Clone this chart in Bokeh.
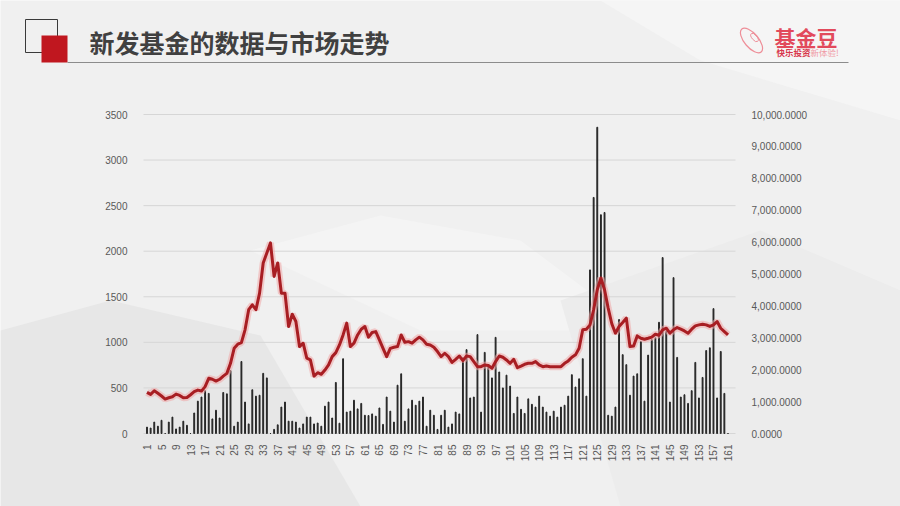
import math
from bokeh.plotting import figure
from bokeh.models import (Range1d, LinearAxis, FixedTicker, NumeralTickFormatter,
                          ColumnDataSource)
from bokeh.embed import file_html
from bokeh.resources import INLINE
from bokeh.core.properties import value

# ---------------- data ----------------
categories = list(range(1, 162))

new_fund_counts = [
    70, 60, 125, 80, 145, 0, 125, 180, 50, 70, 135, 90, 0, 225, 355, 400, 470, 440, 160, 255,
    170, 450, 435, 690, 80, 125, 790, 345, 105, 480, 410, 420, 660, 610, 0, 45, 95, 290, 345, 135,
    135, 125, 60,
    105, 180, 180, 105, 115, 80, 300, 345, 170, 560, 113, 820, 235, 245, 365, 270, 330, 200, 197,
    215, 190, 280, 100, 400, 245, 125, 530, 655, 135, 270, 365, 310, 355, 400, 80, 255, 200, 45,
    200, 255, 70, 105, 235, 215, 830, 920, 390, 400, 1085, 235,
    890, 755, 610, 1055, 675, 500, 640, 520, 220, 400, 265, 220, 380, 320, 290, 410, 290, 235,
    190, 245, 180, 290, 310, 410, 645, 510, 600, 820, 410, 1795, 2590, 3360, 2400, 2425, 200,
    190, 290, 1250,
    865, 755, 420, 630, 655, 1010, 355, 860, 1030, 1050, 1220, 1930, 1120, 345, 1710, 835, 400,
    425, 330, 470, 780, 390, 615, 910, 940, 1370, 390, 900, 440, 0,
]

market_index = [
    1290, 1225, 1340, 1260, 1175, 1080, 1120, 1150, 1235, 1195, 1120, 1130, 1215, 1310, 1360,
    1330, 1470, 1730, 1700, 1645, 1700, 1800, 1885, 2200, 2670, 2800, 2850, 3250, 3880, 4035,
    3880, 4400, 5345, 5660, 5975, 4925, 5345, 4400, 4400, 3355, 3740, 3510, 2725,
    2830, 2360, 2305, 1800, 1905, 1855, 1990, 2150, 2410, 2535, 2775, 3090, 3460, 2725, 2830,
    3090, 3270, 3355, 3020, 3165, 3195, 2935, 2670, 2410, 2670, 2705, 2725, 3090, 2860, 2880,
    2830, 2935, 3020, 2935, 2800, 2775, 2705, 2570, 2410, 2515, 2410, 2230, 2325, 2430, 2285,
    2430, 2410, 2255, 2095,
    2095, 2150, 2130, 2045, 2255, 2430, 2390, 2305, 2200, 2325, 2065, 2115, 2170, 2200, 2200,
    2255, 2150, 2095, 2115, 2095, 2095, 2095, 2095, 2200, 2275, 2390, 2465, 2670, 3250, 3270,
    3405, 3880, 4505, 4875, 4505, 3930, 3440, 3145, 3355,
    3480, 3615, 2725, 2745, 3060, 2985, 2955, 2985, 3020, 3110, 3080, 3250, 3300, 3145, 3250,
    3320, 3270, 3215, 3145, 3270, 3375, 3405, 3425, 3405, 3355, 3405, 3510, 3300, 3195, 3090,
]

left_ticks = [0, 500, 1000, 1500, 2000, 2500, 3000, 3500]
right_ticks = [0, 1000, 2000, 3000, 4000, 5000, 6000, 7000, 8000, 9000, 10000]
x_ticks = list(range(1, 162, 4))

title_text = "新发基金的数据与市场走势"
logo_text = "基金豆"
slogan_a = "快乐投资"
slogan_b = "新体验!"

BG = "#F0F0F0"
LABEL_COLOR = "#595959"
FONT = "Liberation Sans"
CJK = "Noto Sans CJK SC"

W, H = 900, 506
ZERO_Y, TOP_Y = 433, 114           # page y of value 0 and of 3500 / 10000
PLOT_LEFT, PLOT_RIGHT = 143, 735   # page x of the plotting area edges
CAT1_X, PX_PER_CAT = 146.5, 581 / 160

# category axis range spanning the whole canvas width
x_lo = 1 - CAT1_X / PX_PER_CAT
x_hi = 1 + (W - CAT1_X) / PX_PER_CAT
x_left_edge = 1 - (CAT1_X - PLOT_LEFT) / PX_PER_CAT
x_right_edge = 1 + (PLOT_RIGHT - CAT1_X) / PX_PER_CAT
# value ranges spanning the whole canvas height
span = ZERO_Y - TOP_Y
y_lo, y_hi = -3500 * (H - ZERO_Y) / span, 3500 * ZERO_Y / span
y2_lo, y2_hi = -10000 * (H - ZERO_Y) / span, 10000 * ZERO_Y / span

src = ColumnDataSource(data=dict(x=categories, count=new_fund_counts, market=market_index))

p = figure(width=W, height=H, x_range=Range1d(x_lo, x_hi), y_range=Range1d(y_lo, y_hi),
           toolbar_location=None, output_backend="svg",
           min_border_left=0, min_border_right=0, min_border_top=0, min_border_bottom=0)
p.extra_y_ranges = {"right": Range1d(y2_lo, y2_hi), "py": Range1d(H, 0)}
p.extra_x_ranges = {"px": Range1d(0, W)}
p.background_fill_color = BG
p.border_fill_color = BG
p.outline_line_color = None
p.grid.visible = False

# axes drawn at the plotting-area edges
left_axis = p.yaxis[0]
left_axis.fixed_location = x_left_edge
left_axis.ticker = FixedTicker(ticks=left_ticks)

right_axis = LinearAxis(y_range_name="right", ticker=FixedTicker(ticks=right_ticks),
                        formatter=NumeralTickFormatter(format="0,0.0000"),
                        fixed_location=x_right_edge)
p.add_layout(right_axis, "right")

bottom_axis = p.xaxis[0]
bottom_axis.fixed_location = 0
bottom_axis.ticker = FixedTicker(ticks=x_ticks)
bottom_axis.major_label_orientation = math.pi / 2
bottom_axis.major_label_standoff = 5
bottom_axis.axis_line_color = None

for ax in [bottom_axis, left_axis, right_axis]:
    ax.major_tick_line_color = None
    ax.minor_tick_line_color = None
    ax.major_label_text_font = FONT
    ax.major_label_text_font_size = "10px"
    ax.major_label_text_color = LABEL_COLOR
for ax in [left_axis, right_axis]:
    ax.axis_line_color = None
    ax.major_label_standoff = 10

# soft background shapes (decoration, page coordinates)
pk = dict(x_range_name="px", y_range_name="py")
p.patch(x=[0, 110, 260, 360, 0], y=[330, 300, 335, 506, 506], fill_color="#E7E7E7",
        line_color=None, **pk)
p.patch(x=[250, 380, 520, 640, 420], y=[250, 215, 240, 330, 330], fill_color="#F4F4F4",
        line_color=None, **pk)
p.patch(x=[560, 760, 900, 900, 620], y=[300, 230, 290, 506, 506], fill_color="#ECECEC",
        line_color=None, **pk)
p.patch(x=[600, 900, 900, 700], y=[0, 0, 120, 60], fill_color="#F5F5F5", line_color=None, **pk)

# horizontal gridlines across the plotting area
p.segment(x0=[x_left_edge] * len(left_ticks), x1=[x_right_edge] * len(left_ticks),
          y0=left_ticks, y1=left_ticks, line_color="#D6D6D6", line_width=1)

# data
p.vbar(x="x", top="count", width=0.24, color="#262626", source=src)
p.line(x="x", y="market", y_range_name="right", line_width=7, line_color="#F0A8A8",
       line_alpha=0.55, source=src)
p.line(x="x", y="market", y_range_name="right", line_width=3, line_color="#A81E23",
       line_join="round", source=src)

# ---------------- header (decoration, page coordinates) ----------------
p.quad(left=[25], right=[57], top=[19], bottom=[52], fill_color=None,
       line_color="#3a3a3a", line_width=1, **pk)
p.quad(left=[41], right=[67], top=[35], bottom=[62], fill_color="#C0171F", line_color=None, **pk)
p.segment(x0=[67], y0=[62], x1=[848], y1=[62], line_color="#8c8c8c", line_width=1, **pk)
p.text(x=[89], y=[41], text=[title_text], text_font=value(CJK), text_font_size="25px",
       text_font_style="bold", text_color="#404040", text_baseline="middle",
       text_align="left", **pk)

p.ellipse(x=[751], y=[40], width=14, height=30, angle=0.7, fill_color=None,
          line_color="#EE8E98", line_width=1.2, **pk)
p.ellipse(x=[754], y=[37], width=5, height=10, angle=0.7, fill_color=None,
          line_color="#EE8E98", line_width=1, **pk)
p.text(x=[774], y=[36], text=[logo_text], text_font=value(CJK), text_font_size="21px",
       text_font_style="bold", text_color="#E24A5C", text_baseline="middle",
       text_align="left", **pk)
p.text(x=[776], y=[51], text=[slogan_a], text_font=value(CJK), text_font_size="8.5px",
       text_font_style="bold", text_color="#D8364B", text_baseline="middle",
       text_align="left", **pk)
p.text(x=[810], y=[51], text=[slogan_b], text_font=value(CJK), text_font_size="8.5px",
       text_color="#F09AA4", text_baseline="middle", text_align="left", **pk)

open("out.html", "w").write(file_html(p, INLINE))
